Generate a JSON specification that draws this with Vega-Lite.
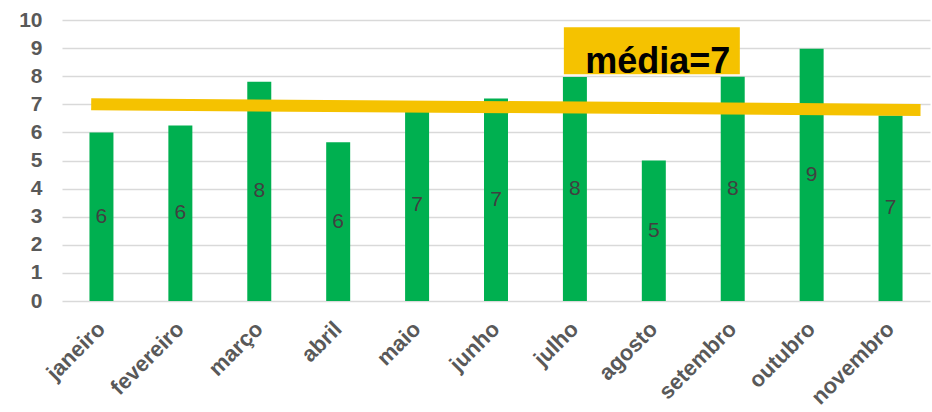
{
  "$schema": "https://vega.github.io/schema/vega-lite/v6.json",
  "width": 868,
  "height": 281,
  "autosize": {"type": "none"},
  "padding": {"left": 62, "top": 20, "right": 2, "bottom": 111},
  "background": "#ffffff",
  "config": {"view": {"stroke": null}, "font": "Liberation Sans"},
  "data": {
    "values": [
      {"mes": "janeiro", "valor": 6.0},
      {"mes": "fevereiro", "valor": 6.25},
      {"mes": "março", "valor": 7.8},
      {"mes": "abril", "valor": 5.65},
      {"mes": "maio", "valor": 6.8},
      {"mes": "junho", "valor": 7.21},
      {"mes": "julho", "valor": 7.97},
      {"mes": "agosto", "valor": 5.0},
      {"mes": "setembro", "valor": 7.98},
      {"mes": "outubro", "valor": 8.98},
      {"mes": "novembro", "valor": 6.6}
    ]
  },
  "layer": [
    {
      "mark": {"type": "bar", "color": "#00B050"},
      "encoding": {
        "x": {
          "field": "mes", "type": "nominal", "sort": null,
          "scale": {"paddingInner": 0.696, "paddingOuter": 0.348},
          "axis": {
            "title": null, "labelAngle": -45, "labelAlign": "right", "labelBaseline": "middle",
            "labelFont": "Liberation Sans", "labelFontSize": 22, "labelFontWeight": "bold",
            "labelColor": "#595959", "labelPadding": 24, "ticks": false, "domain": false, "grid": false
          }
        },
        "y": {
          "field": "valor", "type": "quantitative",
          "scale": {"domain": [0, 10], "nice": false},
          "axis": {
            "title": null, "values": [0, 1, 2, 3, 4, 5, 6, 7, 8, 9, 10],
            "labelFont": "Liberation Sans", "labelFontSize": 21, "labelFontWeight": "bold",
            "labelColor": "#595959", "labelPadding": 20, "ticks": false, "domain": false,
            "gridColor": "#d9d9d9", "gridWidth": 1.5
          }
        }
      }
    },
    {
      "mark": {"type": "text", "fontSize": 21, "color": "#404040", "baseline": "middle", "align": "center", "font": "Liberation Sans"},
      "encoding": {
        "x": {"field": "mes", "type": "nominal", "sort": null, "scale": {"paddingInner": 0.696, "paddingOuter": 0.348}, "axis": null},
        "y": {"field": "valor", "type": "quantitative", "scale": {"domain": [0, 20], "nice": false}, "axis": null},
        "text": {"field": "valor", "type": "quantitative", "format": ".0f"}
      }
    },
    {
      "data": {"values": [{}]},
      "mark": {"type": "rule", "color": "#F5C200", "strokeWidth": 12, "strokeCap": "butt"},
      "encoding": {
        "x": {"datum": 0.37, "type": "quantitative", "scale": {"domain": [0, 11], "nice": false}, "axis": null},
        "x2": {"datum": 10.88},
        "y": {"datum": 7.0, "type": "quantitative", "scale": {"domain": [0, 10], "nice": false}, "axis": null},
        "y2": {"datum": 6.8}
      }
    },
    {
      "data": {"values": [{}]},
      "mark": {"type": "rect", "color": "#F5C200"},
      "encoding": {
        "x": {"datum": 6.36, "type": "quantitative", "scale": {"domain": [0, 11], "nice": false}, "axis": null},
        "x2": {"datum": 8.59},
        "y": {"datum": 9.74, "type": "quantitative", "scale": {"domain": [0, 10], "nice": false}, "axis": null},
        "y2": {"datum": 8.07}
      }
    },
    {
      "data": {"values": [{"rotulo": "média=7"}]},
      "mark": {"type": "text", "fontSize": 36, "fontWeight": "bold", "color": "#000000", "align": "center", "baseline": "alphabetic", "font": "Liberation Sans"},
      "encoding": {
        "x": {"datum": 7.55, "type": "quantitative", "scale": {"domain": [0, 11], "nice": false}, "axis": null},
        "y": {"datum": 8.11, "type": "quantitative", "scale": {"domain": [0, 10], "nice": false}, "axis": null},
        "text": {"field": "rotulo", "type": "nominal"}
      }
    }
  ],
  "resolve": {"scale": {"x": "independent", "y": "independent"}}
}
